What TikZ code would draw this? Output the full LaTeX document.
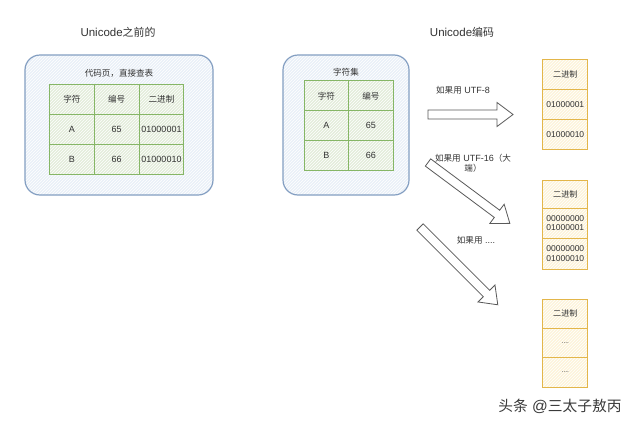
\documentclass[tikz,border=0pt]{standalone}
\usepackage{fontspec}
\setmainfont{Liberation Sans}
\newfontfamily\cjk{Noto Sans CJK SC}[Scale=0.95]
\usetikzlibrary{patterns}
\newcommand\zh[1]{{\cjk #1}}
\definecolor{contb}{HTML}{849FC2}
\definecolor{contf}{HTML}{EAF0F8}
\definecolor{cellb}{HTML}{86B666}
\definecolor{cellf}{HTML}{E3EDDB}
\definecolor{rboxb}{HTML}{E3B64A}
\definecolor{rboxf}{HTML}{FDF4DA}
\definecolor{arrc}{HTML}{5A5A5A}
\definecolor{txt}{HTML}{333333}
\definecolor{wm}{HTML}{3A3A3A}
\newcommand\barrow[3]{%
  \begin{scope}[shift={#1}, rotate=#2]
    \draw[arr] (0,-4.5) -- ({#3-16},-4.5) -- ({#3-16},-12) -- (#3,0) -- ({#3-16},12) -- ({#3-16},4.5) -- (0,4.5) -- cycle;
  \end{scope}}
\tikzset{
  hatch/.style={preaction={fill=#1}, preaction={pattern=north east lines, pattern color=white}},
  container/.style={hatch=contf, draw=contb, line width=1.2pt, rounded corners=15pt},
  cell/.style={hatch=cellf, draw=cellb, line width=1pt, inner sep=0pt,
    minimum width=44.8pt, minimum height=30.3pt},
  mcell/.style={cell, minimum width=44.5pt, minimum height=29.7pt},
  rbox/.style={hatch=rboxf, draw=rboxb, line width=1pt, inner sep=0pt,
    minimum width=45.3pt, align=center, font=\fontsize{8.5}{9.5}\selectfont},
  dots/.style={font=\fontsize{6.5}{7}\selectfont},
  arr/.style={draw=arrc, fill=white, line width=0.8pt, line join=miter},
  title/.style={font=\fontsize{11.5}{13}\selectfont},
  lbl/.style={align=center, inner sep=1pt}
}
\begin{document}
\begin{tikzpicture}[x=1pt, y=-1pt, font=\fontsize{9}{11}\selectfont, text=txt]
\useasboundingbox[fill=white] (0,0) rectangle (640,426);

% titles
\node[title] (t1) at (118,32) {Unicode\zh{之前的}};
\node[title] (t2) at (462,32) {Unicode\zh{编码}};

% left container
\node[container, minimum width=188pt, minimum height=140pt] (c1) at (119,125) {};
\node (ct1) at (119,73) {\zh{代码页，直接查表}};
\node[cell] (a11) at (71.9,99.2) {\zh{字符}};
\node[cell] (a12) at (116.7,99.2) {\zh{编号}};
\node[cell] (a13) at (161.5,99.2) {\zh{二进制}};
\node[cell] (a21) at (71.9,129.5) {A};
\node[cell] (a22) at (116.7,129.5) {65};
\node[cell] (a23) at (161.5,129.5) {01000001};
\node[cell] (a31) at (71.9,159.8) {B};
\node[cell] (a32) at (116.7,159.8) {66};
\node[cell] (a33) at (161.5,159.8) {01000010};

% middle container
\node[container, minimum width=126pt, minimum height=140pt] (c2) at (346,125) {};
\node (ct2) at (346,72) {\zh{字符集}};
\node[mcell] (b11) at (326.3,95.8) {\zh{字符}};
\node[mcell] (b12) at (370.8,95.8) {\zh{编号}};
\node[mcell] (b21) at (326.3,125.5) {A};
\node[mcell] (b22) at (370.8,125.5) {65};
\node[mcell] (b31) at (326.3,155.2) {B};
\node[mcell] (b32) at (370.8,155.2) {66};

% arrows
\coordinate (s1) at (428,114.5);
\coordinate (s2) at (428,162.5);
\coordinate (s3) at (420,227);
\barrow{(s1)}{0}{85}
\barrow{(s2)}{-36.65}{102}
\barrow{(s3)}{-45}{110}

\node[lbl] (l1) at (463,90) {\zh{如果用} UTF-8};
\node[lbl] (l2) at (473,163) {\zh{如果用} UTF-16\zh{（大}\\[-1pt]\zh{端）}};
\node[lbl] (l3) at (476,240) {\zh{如果用} ....};

% right column 1
\node[rbox, minimum height=30pt] (r11) at (565.3,74.3) {\zh{二进制}};
\node[rbox, minimum height=30pt] (r12) at (565.3,104.3) {01000001};
\node[rbox, minimum height=29.7pt] (r13) at (565.3,134.2) {01000010};

% right column 2
\node[rbox, minimum height=28.3pt] (r21) at (565.3,194.2) {\zh{二进制}};
\node[rbox, minimum height=30pt] (r22) at (565.3,223.3) {00000000\\01000001};
\node[rbox, minimum height=31pt] (r23) at (565.3,253.8) {00000000\\01000010};

% right column 3
\node[rbox, minimum height=29.3pt] (r31) at (565.3,313.7) {\zh{二进制}};
\node[rbox, minimum height=29.4pt, dots] (r32) at (565.3,343) {....};
\node[rbox, minimum height=29.6pt, dots] (r33) at (565.3,372.5) {....};

% watermark
\node[text=wm, font=\fontsize{15.5}{17}\selectfont] (wm) at (560,406) {\zh{头条} @\zh{三太子敖丙}};
\end{tikzpicture}
\end{document}
